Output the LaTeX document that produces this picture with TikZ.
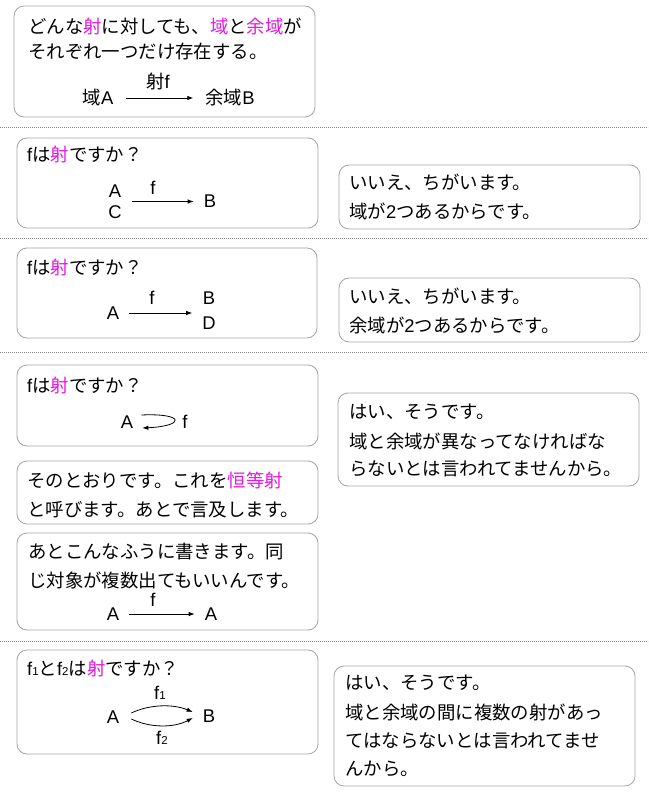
\documentclass[tikz,border=0pt]{standalone}
\usepackage{fontspec}
\setmainfont{Noto Sans CJK JP}
\newfontfamily\latf{Liberation Sans}
\usetikzlibrary{arrows.meta}
\definecolor{hl}{RGB}{226,26,226}
\definecolor{boxgray}{RGB}{165,165,165}
\definecolor{dotgray}{RGB}{130,130,130}
\newcommand{\hlt}[1]{\textcolor{hl}{#1}}
\newcommand{\lt}[1]{{\latf #1}}
\newcommand{\mysubs}[1]{\raisebox{-0.5pt}{\latf\fontsize{11.5}{11.5}\selectfont #1}}
\tikzset{
  box/.style={draw=boxgray, line width=0.8pt, rounded corners=10pt},
  sepline/.style={draw=dotgray, line width=0.8pt, dash pattern=on 0.8pt off 1.2pt},
  txt/.style={anchor=west, inner sep=0pt},
  obj/.style={inner xsep=10pt, inner ysep=1pt},
  lat/.style={font=\latf\fontsize{18.4}{22}\selectfont},
  lab/.style={inner sep=0pt},
  arr/.style={line width=0.8pt, -{Latex[length=6pt,width=4.5pt]}}
}
\begin{document}
\begin{tikzpicture}[x=1pt, y=-1pt, font=\fontsize{18.4}{22}\selectfont]
\useasboundingbox (0,0) rectangle (648,794);
\fill[white] (0,0) rectangle (648,794);

% separators
\draw[sepline] (0,127) -- (648,127);
\draw[sepline] (0,238) -- (648,238);
\draw[sepline] (0,352) -- (648,352);
\draw[sepline] (0,641) -- (648,641);

% boxes
\draw[box] (14,6) rectangle (315,117);
\draw[box] (17,138) rectangle (318,228);
\draw[box] (339,165) rectangle (640,229);
\draw[box] (17,248) rectangle (317,338);
\draw[box] (339,278) rectangle (640,342);
\draw[box] (17,365) rectangle (318,446);
\draw[box] (338,393) rectangle (639,486);
\draw[box] (17,461) rectangle (318,524);
\draw[box] (17,533) rectangle (318,630);
\draw[box] (17,650) rectangle (318,754);
\draw[box] (334,666) rectangle (635,786);

% box 1
\node[txt] (t1a) at (28,26) {どんな\hlt{射}に対しても、\hlt{域}と\hlt{余域}が};
\node[txt] (t1b) at (28,52) {それぞれ一つだけ存在する。};
\node[obj, inner xsep=12pt] (dA) at (98,98) {域\lt{A}};
\node[obj, inner xsep=12pt] (cB) at (230,98) {余域\lt{B}};
\draw[arr] (dA.east) -- (cB.west);
\node[lab] (l1) at (158,82) {射\lt{f}};

% box 2
\node[txt] (t2) at (27,155) {\lt{f}は\hlt{射}ですか？};
\node[obj, align=center, font=\latf\fontsize{18.4}{21}\selectfont] (AC) at (115,201.5) {A\\C};
\node[obj, lat] (B2) at (210,201) {B};
\draw[arr] (AC.east) -- (AC.east -| B2.west);
\node[lab, lat] (l2) at (153,188) {f};
\node[txt] (r2a) at (349,182) {いいえ、ちがいます。};
\node[txt] (r2b) at (349,211) {域が\lt{2}つあるからです。};

% box 3
\node[txt] (t3) at (27,267) {\lt{f}は\hlt{射}ですか？};
\node[obj, lat] (A3) at (113,313) {A};
\node[obj, align=center, font=\latf\fontsize{18.4}{25}\selectfont] (BD) at (209,310.5) {B\\D};
\draw[arr] (A3.east) -- (A3.east -| BD.west);
\node[lab, lat] (l3) at (152,298) {f};
\node[txt] (r3a) at (349,296) {いいえ、ちがいます。};
\node[txt] (r3b) at (349,325) {余域が\lt{2}つあるからです。};

% box 4
\node[txt] (t4) at (27,385) {\lt{f}は\hlt{射}ですか？};
\node[obj, lat] (A4) at (127,422) {A};
\draw[arr] ([xshift=-2pt,yshift=7pt]A4.east) .. controls +(44,-2) and +(43,-2) .. ([xshift=-1pt,yshift=-6pt]A4.east);
\node[lab, lat] (l4) at (185,422) {f};
\node[txt] (r4a) at (349,412) {はい、そうです。};
\node[txt] (r4b) at (349,441) {域と余域が異なってなければな};
\node[txt] (r4c) at (349,469) {らないとは言われてませんから。};

% box 5
\node[txt] (t5a) at (27,480) {そのとおりです。これを\hlt{恒等射}};
\node[txt] (t5b) at (27,510) {と呼びます。あとで言及します。};

% box 6
\node[txt] (t6a) at (28,552) {あとこんなふうに書きます。同};
\node[txt] (t6b) at (28,580) {じ対象が複数出てもいいんです。};
\node[obj, lat] (A6a) at (113,614) {A};
\node[obj, lat] (A6b) at (211,614) {A};
\draw[arr] (A6a.east) -- (A6b.west);
\node[lab, lat] (l6) at (153,600) {f};

% box 7
\node[txt] (t7) at (27,668) {\lt{f}\mysubs{1}と\lt{f}\mysubs{2}は\hlt{射}ですか？};
\node[obj, lat] (A7) at (113,717) {A};
\node[obj, lat] (B7) at (209,716) {B};
\draw[arr] ([xshift=2pt,yshift=4pt]A7.east) .. controls +(19,-9) and +(-19,-8) .. ([yshift=4pt]B7.west);
\draw[arr] ([xshift=2pt,yshift=-2pt]A7.east) .. controls +(19,9) and +(-19,10) .. ([yshift=-2pt]B7.west);
\node[lab] (l7a) at (160,693) {\lt{f}\mysubs{1}};
\node[lab] (l7b) at (162,738) {\lt{f}\mysubs{2}};
\node[txt] (r7a) at (345,683) {はい、そうです。};
\node[txt] (r7b) at (345,712) {域と余域の間に複数の射があっ};
\node[txt] (r7c) at (345,741) {てはならないとは言われてませ};
\node[txt] (r7d) at (345,769) {んから。};
\end{tikzpicture}
\end{document}
